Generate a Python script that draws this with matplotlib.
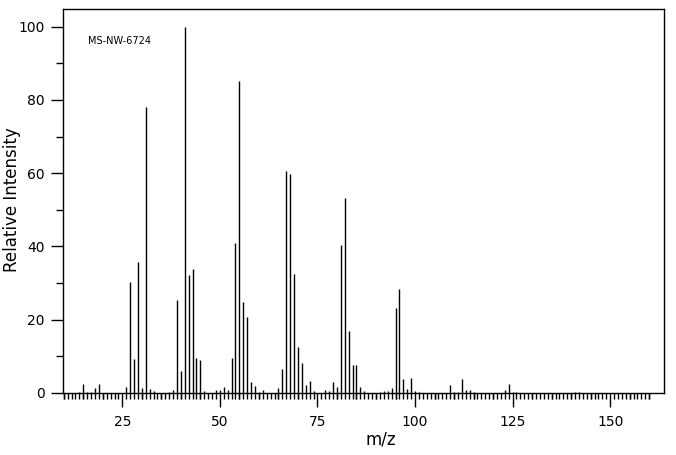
"""Mass spectrum bar plot for MS-NW-6724."""

import matplotlib
matplotlib.use('Agg')
import matplotlib.pyplot as plt
from matplotlib.ticker import FixedLocator

SPECTRUM_ID = 'MS-NW-6724'

# m/z values and relative intensities
MZ = [14, 15, 16, 17, 18, 19, 26, 27, 28, 29, 30, 31, 32, 33, 37, 38,
      39, 40, 41, 42, 43, 44, 45, 46, 49, 50, 51, 52, 53, 54, 55, 56,
      57, 58, 59, 60, 61, 65, 66, 67, 68, 69, 70, 71, 72, 73, 74, 77,
      78, 79, 80, 81, 82, 83, 84, 85, 86, 87, 91, 92, 93, 94, 95, 96,
      97, 98, 99, 100, 101, 109, 110, 111, 112, 113, 114, 115, 123, 124,
      125, 126, 141, 142]
INTENSITY = [0.4, 2.5, 0.4, 0.4, 1.5, 2.5, 1.6, 30.3, 9.3, 35.8, 1.5, 78.1,
             1.2, 0.5, 0.4, 0.9, 25.4, 5.9, 100.0, 32.1, 33.8, 9.6, 8.9,
             0.5, 0.8, 0.8, 1.7, 0.9, 9.6, 41.0, 85.2, 24.9, 20.8, 3.1,
             1.9, 0.4, 0.8, 1.5, 6.6, 60.7, 59.9, 32.5, 12.6, 8.2, 2.2,
             3.3, 0.6, 0.8, 0.5, 2.9, 1.7, 40.4, 53.3, 17.0, 7.7, 7.7, 1.7,
             0.5, 0.3, 0.6, 0.6, 1.5, 23.2, 28.4, 3.8, 1.1, 4.1, 0.6, 0.3,
             2.1, 0.3, 0.3, 3.8, 0.8, 0.8, 0.3, 0.8, 2.4, 0.3, 0.3, 0.3,
             0.3]

XTICKS = [25, 50, 75, 100, 125, 150]
YTICKS = [0, 20, 40, 60, 80, 100]


def make_plot():
    """Draw the stick spectrum and save it."""
    fig = plt.figure(figsize=(6.76, 4.55), dpi=100)
    ax = fig.add_axes([63 / 676, 62 / 455, 601 / 676, 384 / 455])

    ax.vlines(MZ, 0, INTENSITY, colors='black', linewidth=1.0)

    ax.set_xlim(9.8, 163.8)
    ax.set_ylim(0, 104.8)

    # x axis: long ticks every 25, medium every 5, short every 1
    ax.set_xticks(XTICKS)
    ax.xaxis.set_minor_locator(FixedLocator(range(10, 161)))
    ax.tick_params(axis='x', which='major', direction='out', length=10,
                   width=1, labelsize=10, pad=6)
    ax.tick_params(axis='x', which='minor', direction='out', length=4,
                   width=1)
    for m in range(10, 161, 5):
        if m % 25:
            ax.plot([m, m], [0, -1.7], color='black', lw=1,
                    clip_on=False, solid_capstyle='butt')

    ax.set_yticks(YTICKS)
    ax.yaxis.set_minor_locator(FixedLocator(range(10, 101, 20)))
    ax.tick_params(axis='y', which='major', direction='out', length=9,
                   width=1, labelsize=10, pad=4)
    ax.tick_params(axis='y', which='minor', direction='out', length=5,
                   width=1)

    for spine in ax.spines.values():
        spine.set_linewidth(1.0)

    ax.set_xlabel('m/z', fontsize=12, va='center')
    ax.xaxis.set_label_coords((381 - 63) / 601, -(440 - 393) / 384)
    ax.set_ylabel('Relative Intensity', fontsize=12, va='center')
    ax.yaxis.set_label_coords(-(63 - 12) / 601, (393 - 200) / 384)
    fig.text(88 / 676, 1 - 41 / 455, SPECTRUM_ID, fontsize=7,
             va='center', ha='left')

    fig.savefig('out.png', dpi=100)


if __name__ == '__main__':
    make_plot()
